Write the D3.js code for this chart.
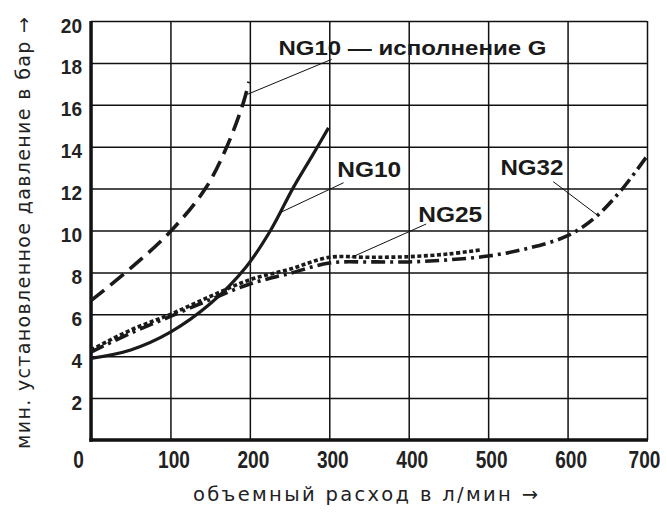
<!DOCTYPE html>
<html>
<head>
<meta charset="utf-8">
<script src="https://cdn.jsdelivr.net/npm/d3@7"></script>
<style>
  body { margin: 0; background: #fff; }
  svg { display: block; }
</style>
</head>
<body>
<svg width="667" height="516"></svg>
<script>
// values
var xTicks = [0, 100, 200, 300, 400, 500, 600, 700];
var yTicks = [2, 4, 6, 8, 10, 12, 14, 16, 18, 20];

var ng10gX = [0, 50, 100, 144, 171, 191, 199];
var ng10gY = [6.65, 8.2, 9.95, 12, 14, 16, 17.1];

var ng10X = [0, 50, 100, 150, 195, 226, 254, 279, 299];
var ng10Y = [3.9, 4.3, 5.15, 6.5, 8.25, 10, 12, 13.6, 14.9];

var ng25X = [0, 50, 100, 150, 200, 250, 300, 350, 400, 450, 492];
var ng25Y = [4.3, 5.25, 6.0, 6.85, 7.65, 8.15, 8.72, 8.72, 8.75, 8.88, 9.08];

var ng32X = [0, 50, 100, 150, 200, 250, 300, 350, 400, 450, 500, 550, 600, 634, 667, 700];
var ng32Y = [4.2, 5.1, 5.9, 6.7, 7.45, 7.95, 8.45, 8.5, 8.5, 8.6, 8.78, 9.15, 9.75, 10.6, 11.9, 13.55];

var labelText = ["NG10 — исполнение G", "NG10", "NG25", "NG32"];
// text anchor (data units) and leader line from/to (data units)
var labelAt = [[236, 18.38], [310, 12.54], [412, 10.42], [515.5, 12.65]];
var leaderFrom = [[303, 18.17], [318, 12.28], [422, 10.31], [582, 12.33]];
var leaderTo = [[197, 16.5], [238, 10.85], [328, 8.72], [637, 10.75]];

var svg = d3.select("svg"),
    margin = {top: 21, right: 20, bottom: 76, left: 91},
    width = +svg.attr("width") - margin.left - margin.right,
    height = +svg.attr("height") - margin.top - margin.bottom,
    g = svg.append("g").attr("transform", "translate(" + margin.left + "," + margin.top + ")");

var x = d3.scaleLinear().domain([0, 700]).range([0, width]);
var y = d3.scaleLinear().domain([0, 20]).range([height, 0]);

// no condensed face installed, squeeze the bold one instead
var tickFont = "'Liberation Sans', Arial, sans-serif";
function digitsLen(d) { return String(d).length * 10.6; }

// grid + y labels
var yAxis = g.append("g")
    .call(d3.axisLeft(y).tickValues(yTicks).tickSize(-width).tickPadding(9).tickFormat(function(d) { return d; }));
yAxis.select(".domain").remove();
yAxis.selectAll(".tick line").attr("stroke", "#111").attr("stroke-width", 1.5);
yAxis.selectAll(".tick text")
    .attr("dy", null).attr("y", 11)
    .attr("textLength", digitsLen).attr("lengthAdjust", "spacingAndGlyphs")
    .attr("fill", "#222")
    .style("font-family", tickFont).style("font-weight", "bold").style("font-size", "21px");

var xAxis = g.append("g")
    .attr("transform", "translate(0," + height + ")")
    .call(d3.axisBottom(x).tickValues(xTicks).tickSize(-height).tickPadding(0).tickFormat(function(d) { return d; }));
xAxis.select(".domain").remove();
xAxis.selectAll(".tick line").attr("stroke", "#111").attr("stroke-width", 1.5);
xAxis.selectAll(".tick text")
    .attr("dy", null).attr("y", 28)
    .attr("x", function(d) { return d === 0 ? -13 : d === 700 ? -3 : 3; })
    .attr("textLength", digitsLen).attr("lengthAdjust", "spacingAndGlyphs")
    .attr("fill", "#222")
    .style("font-family", tickFont).style("font-weight", "bold").style("font-size", "23px");

// heavy left and bottom axis lines
g.append("line").attr("x1", 0).attr("x2", 0).attr("y1", 0).attr("y2", height + 1.7)
    .attr("stroke", "#111").attr("stroke-width", 3.4);
g.append("line").attr("x1", -1.7).attr("x2", width + 1).attr("y1", height).attr("y2", height)
    .attr("stroke", "#111").attr("stroke-width", 3.4);

// curves
var line = d3.line()
    .x(function(d) { return x(d[0]); })
    .y(function(d) { return y(d[1]); })
    .curve(d3.curveCatmullRom.alpha(0.5));

function pts(xs, ys) { return xs.map(function(v, i) { return [v, ys[i]]; }); }

var series = [
  {pts: pts(ng32X, ng32Y), dash: "14,5,3,5", w: 3.6},
  {pts: pts(ng25X, ng25Y), dash: "4,2.5", w: 3.6},
  {pts: pts(ng10X, ng10Y), dash: null, w: 3.2},
  {pts: pts(ng10gX, ng10gY), dash: "17,8", w: 3.6}
];

g.selectAll(".curve")
  .data(series)
  .enter().append("path")
    .attr("class", "curve")
    .attr("d", function(d) { return line(d.pts); })
    .attr("fill", "none")
    .attr("stroke", "#1a1a1a")
    .attr("stroke-width", function(d) { return d.w; })
    .attr("stroke-dasharray", function(d) { return d.dash; });

// leaders
g.selectAll(".leader")
  .data(leaderFrom)
  .enter().append("line")
    .attr("class", "leader")
    .attr("x1", function(d) { return x(d[0]); })
    .attr("y1", function(d) { return y(d[1]); })
    .attr("x2", function(d, i) { return x(leaderTo[i][0]); })
    .attr("y2", function(d, i) { return y(leaderTo[i][1]); })
    .attr("stroke", "#111")
    .attr("stroke-width", 1);

var labelLen = [268, 64, 64, 63];
g.selectAll(".lab")
  .data(labelText)
  .enter().append("text")
    .attr("class", "lab")
    .attr("x", function(d, i) { return x(labelAt[i][0]); })
    .attr("y", function(d, i) { return y(labelAt[i][1]); })
    .attr("textLength", function(d, i) { return labelLen[i]; })
    .attr("lengthAdjust", "spacingAndGlyphs")
    .attr("fill", "#1a1a1a")
    .style("font-family", "'Liberation Sans', Arial, sans-serif")
    .style("font-weight", "bold")
    .style("font-size", function(d, i) { return i === 0 ? "21px" : "22px"; })
    .text(function(d) { return d; });

// axis titles
svg.append("text")
    .attr("x", 193).attr("y", 501)
    .attr("textLength", 345).attr("lengthAdjust", "spacing")
    .attr("fill", "#222")
    .style("font-family", "'DejaVu Sans', sans-serif")
    .style("font-size", "19.5px")
    .text("объемный расход в л/мин →");

svg.append("text")
    .attr("transform", "translate(30,449) rotate(-90)")
    .attr("textLength", 432).attr("lengthAdjust", "spacing")
    .attr("fill", "#222")
    .style("font-family", "'DejaVu Sans', sans-serif")
    .style("font-size", "19px")
    .text("мин. установленное давление в бар →");
</script>
</body>
</html>
